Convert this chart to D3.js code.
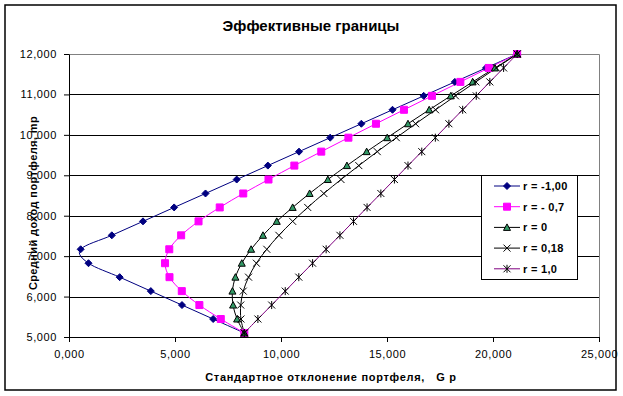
<!DOCTYPE html>
<html>
<head>
<meta charset="utf-8">
<script src="https://cdn.jsdelivr.net/npm/d3@7"></script>
<style>
  body { margin: 0; background: #fff; }
  svg text { font-family: "Liberation Sans", Arial, sans-serif; fill: #000; }
</style>
</head>
<body>
<svg id="chart" width="623" height="396"></svg>
<script>
(function () {
    // mean portfolio return (same for every series), one value per weight step
    var returns = [5.100, 5.445, 5.790, 6.135, 6.480, 6.825, 7.170, 7.515, 7.860, 8.205, 8.550,
                   8.895, 9.240, 9.585, 9.930, 10.275, 10.620, 10.965, 11.310, 11.655, 12.000];

    // standard deviation of the portfolio for each correlation
    var sdNeg100 = [8.27, 6.80, 5.33, 3.86, 2.39, 0.92, 0.55, 2.02, 3.49, 4.96, 6.44,
                    7.91, 9.38, 10.85, 12.32, 13.79, 15.26, 16.73, 18.20, 19.67, 21.14];
    var sdNeg07 = [8.27, 7.16, 6.15, 5.32, 4.74, 4.53, 4.73, 5.29, 6.11, 7.11, 8.22,
                   9.41, 10.63, 11.90, 13.18, 14.48, 15.80, 17.12, 18.46, 19.80, 21.14];
    var sdZero = [8.27, 7.93, 7.74, 7.71, 7.85, 8.15, 8.59, 9.15, 9.80, 10.55, 11.35,
                  12.21, 13.11, 14.04, 15.01, 15.99, 16.99, 18.01, 19.04, 20.09, 21.14];
    var sd018 = [8.27, 8.11, 8.10, 8.22, 8.47, 8.84, 9.33, 9.90, 10.55, 11.26, 12.02,
                 12.83, 13.67, 14.54, 15.44, 16.35, 17.29, 18.23, 19.19, 20.16, 21.14];
    var sdPos10 = [8.27, 8.91, 9.56, 10.20, 10.84, 11.49, 12.13, 12.78, 13.42, 14.06, 14.71,
                   15.35, 15.99, 16.64, 17.28, 17.92, 18.57, 19.21, 19.85, 20.50, 21.14];

    var seriesNames = ["r = -1,00", "r = - 0,7", "r = 0", "r = 0,18", "r = 1,0"];
    var xTicks = [0, 5, 10, 15, 20, 25];
    var yTicks = [5, 6, 7, 8, 9, 10, 11, 12];

    var series = [
        { name: seriesNames[0], sd: sdNeg100, line: "#000080", marker: "diamond", fill: "#000080", stroke: "#000080" },
        { name: seriesNames[1], sd: sdNeg07, line: "#ff00ff", marker: "square", fill: "#ff00ff", stroke: "#ff00ff" },
        { name: seriesNames[2], sd: sdZero, line: "#000000", marker: "triangle", fill: "#339966", stroke: "#000000" },
        { name: seriesNames[3], sd: sd018, line: "#000000", marker: "x", fill: "none", stroke: "#000000" },
        { name: seriesNames[4], sd: sdPos10, line: "#800080", marker: "star", fill: "none", stroke: "#000000" }
    ];

    var svg = d3.select("#chart");

    // russian style numbers: 12,000
    var ru = d3.formatLocale({ decimal: ",", thousands: " ", grouping: [3], currency: ["", ""] });
    var fmt = ru.format(".3f");

    var x = d3.scaleLinear().domain([0, 25]).range([69, 599]);
    var y = d3.scaleLinear().domain([5, 12]).range([337, 54]);

    // chart border
    svg.append("rect")
        .attr("x", 5).attr("y", 5).attr("width", 611).attr("height", 385)
        .attr("fill", "#fff").attr("stroke", "#000").attr("stroke-width", 1.5);

    // plot area border (top + right are grey)
    svg.append("path")
        .attr("d", "M" + x(0) + "," + (y(12) + 0.5) + "H" + (x(25) + 0.5) + "V" + (y(5) + 0.5))
        .attr("fill", "none").attr("stroke", "#808080");

    // horizontal grid
    svg.append("g")
        .selectAll("line")
        .data(yTicks.filter(function (d) { return d > 5 && d < 12; }))
        .join("line")
        .attr("x1", x(0)).attr("x2", x(25))
        .attr("y1", function (d) { return Math.round(y(d)) + 0.5; })
        .attr("y2", function (d) { return Math.round(y(d)) + 0.5; })
        .attr("stroke", "#000");

    // marker shapes
    function markerPath(type) {
        if (type === "diamond") return "M0,-3.5L3.5,0L0,3.5L-3.5,0Z";
        if (type === "square") return "M-3.5,-3.5H3.5V3.5H-3.5Z";
        if (type === "triangle") return "M0,-3.5L3.5,3L-3.5,3Z";
        if (type === "x") return "M-3.5,-3.5L3.5,3.5M3.5,-3.5L-3.5,3.5";
        return "M-3.5,-3.5L3.5,3.5M3.5,-3.5L-3.5,3.5M0,-4V4"; // star
    }

    var line = d3.line()
        .x(function (d) { return x(d[0]); })
        .y(function (d) { return y(d[1]); })
        .curve(d3.curveCardinal.tension(0));

    var plot = svg.append("g");

    series.forEach(function (s) {
        var pts = s.sd.map(function (v, i) { return [v, returns[i]]; });
        plot.append("path")
            .attr("d", line(pts))
            .attr("fill", "none")
            .attr("stroke", s.line)
            .attr("stroke-width", 1);
    });

    series.forEach(function (s) {
        var pts = s.sd.map(function (v, i) { return [v, returns[i]]; });
        plot.append("g")
            .selectAll("path")
            .data(pts)
            .join("path")
            .attr("transform", function (d) { return "translate(" + x(d[0]) + "," + y(d[1]) + ")"; })
            .attr("d", markerPath(s.marker))
            .attr("fill", s.fill)
            .attr("stroke", s.stroke)
            .attr("stroke-width", 1);
    });

    // axes
    var xAxis = svg.append("g")
        .attr("transform", "translate(0," + y(5) + ")")
        .call(d3.axisBottom(x).tickValues(xTicks).tickFormat(fmt).tickSize(5).tickSizeOuter(0).tickPadding(8));
    var yAxis = svg.append("g")
        .attr("transform", "translate(" + x(0) + ",0)")
        .call(d3.axisLeft(y).tickValues(yTicks).tickFormat(fmt).tickSize(5).tickSizeOuter(0).tickPadding(7));

    [xAxis, yAxis].forEach(function (a) {
        a.selectAll("path, line").attr("stroke", "#000");
        a.selectAll("text")
            .attr("font-family", "Liberation Sans, Arial, sans-serif")
            .attr("font-size", 11)
            .attr("letter-spacing", 0.6)
            .attr("fill", "#000");
    });

    // titles
    svg.append("text")
        .attr("x", 311).attr("y", 31)
        .attr("text-anchor", "middle")
        .attr("font-size", 15).attr("font-weight", "bold")
        .text("Эффективные границы");

    svg.append("text")
        .attr("x", 331).attr("y", 381)
        .attr("text-anchor", "middle")
        .attr("font-size", 11).attr("font-weight", "bold")
        .attr("letter-spacing", 0.7)
        .style("white-space", "pre")
        .text("Стандартное отклонение портфеля,   G p");

    svg.append("text")
        .attr("transform", "translate(37,203) rotate(-90)")
        .attr("text-anchor", "middle")
        .attr("font-size", 11).attr("font-weight", "bold")
        .attr("letter-spacing", 0.4)
        .text("Средний доход портфеля, mр");

    // legend
    var legend = svg.append("g");
    legend.append("rect")
        .attr("x", 481.5).attr("y", 175.5).attr("width", 96).attr("height", 104)
        .attr("fill", "#fff").attr("stroke", "#000");

    var rows = legend.selectAll("g.row")
        .data(series)
        .join("g")
        .attr("class", "row")
        .attr("transform", function (d, i) { return "translate(0," + (186 + i * 20.7) + ")"; });

    rows.append("line")
        .attr("x1", 494).attr("x2", 520).attr("y1", 0).attr("y2", 0)
        .attr("stroke", function (d) { return d.line; });
    rows.append("path")
        .attr("transform", "translate(507,0)")
        .attr("d", function (d) { return markerPath(d.marker); })
        .attr("fill", function (d) { return d.fill; })
        .attr("stroke", function (d) { return d.stroke; });
    rows.append("text")
        .attr("x", 523).attr("y", 4)
        .attr("font-size", 11).attr("font-weight", "bold")
        .attr("letter-spacing", 0.3)
        .text(function (d) { return d.name; });
})();
</script>
</body>
</html>
